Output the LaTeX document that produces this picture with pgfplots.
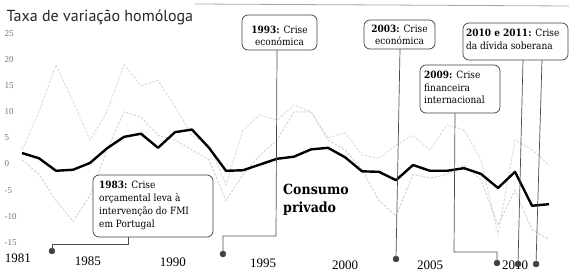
\documentclass[border=0pt]{standalone}
\usepackage{pgfplots}
\pgfplotsset{compat=1.18}
\usepackage{fontspec}
\setmainfont{Liberation Serif}
\newfontfamily\titlefont{PT Sans}
\newfontfamily\annfont{DejaVu Serif Condensed}[BoldFont={DejaVu Serif Condensed Bold}]
\begin{document}
\begin{tikzpicture}
\useasboundingbox (0,0) rectangle (569pt,271pt);
\begin{axis}[
  at={(5pt,18.26pt)}, anchor=south west,
  scale only axis, width=561pt, height=229.68pt,
  xmin=1980, xmax=2013, ymin=-17, ymax=27,
  axis line style={draw=none}, tick style={draw=none},
  xtick=\empty,
  ytick={-15,-10,-5,0,5,10,15,20,25},
  yticklabel style={anchor=west, xshift=-4pt, font=\fontsize{9}{9}\selectfont, text=black!55},
  /pgf/number format/assume math mode=true,
  clip=false]
% faint series 1
\addplot[black!15, line width=0.9pt, dash pattern=on 2.5pt off 1.5pt] coordinates {
(1981,2.7)(1982,10)(1983,19)(1984,12)(1985,4.6)(1986,10)(1987,19)(1988,15)(1989,16)(1990,11)
(1991,5.5)(1992,3.6)(1993,-4)(1994,6.5)(1995,9.4)(1996,8.4)(1997,11.3)(1998,10)(1999,5)(2000,6)
(2001,1.7)(2002,1.1)(2003,3.6)(2004,5.5)(2005,2.7)(2006,7.5)(2007,6.5)(2008,0.8)(2009,-13.6)
(2010,4.6)(2011,2.7)(2012,-0.2)};
% faint series 2
\addplot[black!18, line width=0.9pt, dash pattern=on 2.5pt off 1.5pt] coordinates {
(1981,0.8)(1982,-2)(1983,-7)(1984,-11)(1985,-6)(1986,2.7)(1987,10)(1988,9)(1989,5.5)(1990,4.6)
(1991,2.7)(1992,0.8)(1993,-7)(1994,-2)(1995,1.7)(1996,4.6)(1997,10)(1998,10)(1999,4.6)(2000,2.7)
(2001,-1)(2002,-7)(2003,-10)(2004,-2)(2005,-2.7)(2006,-2)(2007,-0.2)(2008,-3)(2009,-11.7)
(2010,-5)(2011,-12.6)(2012,-14.5)};
% Consumo privado
\addplot[black, line width=2.4pt, line join=round] coordinates {
(1981,2.1)(1982,1.1)(1983,-1.3)(1984,-1.1)(1985,0.2)(1986,3.0)(1987,5.2)(1988,5.8)(1989,3.1)
(1990,6.1)(1991,6.6)(1992,3.1)(1993,-1.3)(1994,-1.2)(1995,-0.1)(1996,1.0)(1997,1.4)(1998,2.8)
(1999,3.1)(2000,1.3)(2001,-1.4)(2002,-1.5)(2003,-3.1)(2004,-0.2)(2005,-1.3)(2006,-1.3)(2007,-0.8)
(2008,-1.9)(2009,-4.6)(2010,-1.5)(2011,-8.0)(2012,-7.7)};
% event markers
\addplot[only marks, mark=*, mark size=3pt, black!75] coordinates {
(1982.76,-16.67)(1992.82,-17.24)(2003.0,-18.2)(2008.94,-18.97)(2010.18,-19.16)(2011.24,-19.16)};
% x labels
\begin{scope}[every node/.style={font=\fontsize{13}{13}\selectfont, inner sep=1pt}]
\node at (axis cs:1980.76,-18.0) {1981};
\node at (axis cs:1984.88,-18.6) {1985};
\node at (axis cs:1989.88,-18.8) {1990};
\node at (axis cs:1995.18,-19.1) {1995};
\node at (axis cs:2000,-19.3) {2000};
\node at (axis cs:2005,-19.35) {2005};
\node at (axis cs:2010,-19.3) {2010};
\end{scope}
\end{axis}
\begin{scope}[x=1pt, y=-1pt, yshift=271pt]
\node[anchor=base west, font=\titlefont\fontsize{16}{16}\selectfont, text=black!85] at (3,22) {Taxa de variação homóloga};
\draw[black!35, line width=0.8pt] (195,4) -- (569,6);
% connectors
\begin{scope}[draw=black!70, line width=0.7pt]
\draw (52,251) -- (52,244) -- (128,244) -- (128,237);
\draw (223,254) -- (223,236) -- (276,236) -- (277,50);
\draw (396,259) -- (400,49);
\draw (497,263) -- (497,252) -- (454,252) -- (455,113);
\draw (518,264) -- (523,60);
\draw (536,264) -- (542,60);
\end{scope}
% boxes
\begin{scope}[draw=black!75, line width=0.7pt, rounded corners=6pt]
\filldraw[fill=white] (93,175) rectangle (213,237);
\filldraw[fill=white] (242,15) rectangle (317,50);
\filldraw[fill=white] (364,20) rectangle (435,49);
\filldraw[fill=white] (420,65) rectangle (500,113);
\filldraw[fill=white] (463,23) rectangle (568,60);
\end{scope}
\begin{scope}[every node/.style={font=\annfont\fontsize{10}{12.5}\selectfont, inner sep=0pt, text=black}]
\node[anchor=north west, align=left, font=\annfont\fontsize{10}{13}\selectfont] at (99,181) {\textbf{1983:} Crise\\orçamental leva à\\intervenção do FMI\\em Portugal};
\node[align=center] at (279.5,36) {\textbf{1993:} Crise\\económica};
\node[align=center] at (399.5,35) {\textbf{2003:} Crise\\económica};
\node[anchor=north west, align=left] at (424,71) {\textbf{2009:} Crise\\financeira\\internacional};
\node[anchor=north west, align=left] at (466,29) {\textbf{2010 e 2011:} Crise\\da dívida soberana};
\end{scope}
\node[anchor=north west, align=left, inner sep=0pt, font=\annfont\bfseries\fontsize{14}{18}\selectfont] at (283,184) {Consumo\\privado};
\end{scope}
\end{tikzpicture}
\end{document}
